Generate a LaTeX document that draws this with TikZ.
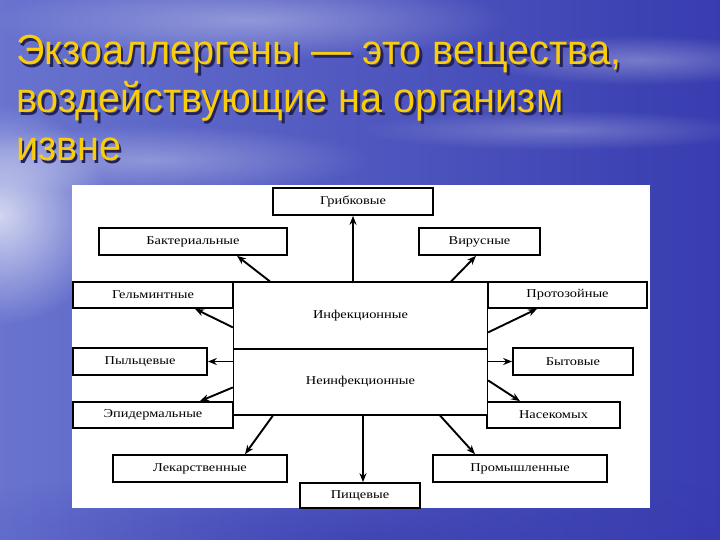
\documentclass[tikz,border=0pt]{standalone}
\usepackage{fontspec}
\setmainfont{Liberation Serif}
\newfontfamily\diagfont[FakeStretch=1.2]{Liberation Serif}
\newfontfamily\titlefont{Liberation Sans}
\usetikzlibrary{calc,arrows.meta,fadings}
\tikzfading[name=softfade, inner color=transparent!0, outer color=transparent!100]
\definecolor{bgbase}{RGB}{70,80,190}
\definecolor{bgdark}{RGB}{50,52,170}
\definecolor{bglight}{RGB}{120,132,215}
\definecolor{titleyellow}{RGB}{250,205,10}
\definecolor{titleshadow}{RGB}{35,35,90}
\newcommand{\shadowed}[1]{\makebox[0pt][l]{\hspace{2.5pt}\raisebox{-2.5pt}{\color{titleshadow}#1}}#1}
\begin{document}
\begin{tikzpicture}[x=1pt,y=-1pt,
  box/.style={draw=black, line width=1.7pt, fill=white, inner sep=0pt,
    font=\diagfont\fontsize{12}{14}\selectfont},
  bigbox/.style={box, line width=1.2pt},
  arr/.style={draw=black, line width=1.9pt, -{Stealth[length=9pt,width=7pt]}},
  ttl/.style={anchor=base west, inner sep=0pt, xscale=0.945, text=titleyellow,
    font=\titlefont\fontsize{42}{46}\selectfont}]
% background
\useasboundingbox (0,0) rectangle (720,540);
\shade[left color=bglight, right color=bgdark] (0,0) rectangle (720,540);
\fill[bgbase, opacity=0.3] (0,0) rectangle (720,540);
\fill[white, opacity=0.7, path fading=softfade] (0,215) ellipse [x radius=110, y radius=110];
\fill[white, opacity=0.35, path fading=softfade] (250,20) ellipse [x radius=260, y radius=40];
\fill[white, opacity=0.3, path fading=softfade] (640,60) ellipse [x radius=160, y radius=25];
\fill[white, opacity=0.25, path fading=softfade] (560,130) ellipse [x radius=200, y radius=20];
\fill[white, opacity=0.3, path fading=softfade] (150,160) ellipse [x radius=220, y radius=35];
\fill[bgdark, opacity=0.5, path fading=softfade] (360,540) ellipse [x radius=460, y radius=80];
% title
\node[ttl] (title1) at (16,65) {\shadowed{Экзоаллергены — это вещества,}};
\node[ttl] (title2) at (16,113) {\shadowed{воздействующие на организм}};
\node[ttl] (title3) at (16,161) {\shadowed{извне}};
% panel
\fill[white] (72,185) rectangle (650,508);
% boxes
\node[box, minimum width=160pt, minimum height=27pt] (gr) at (353,201.5) {Грибковые};
\node[box, minimum width=188pt, minimum height=27pt] (bak) at (193,241.5) {Бактериальные};
\node[box, minimum width=121pt, minimum height=27pt] (vir) at (479.5,241.5) {Вирусные};
\node[box, minimum width=160pt, minimum height=26pt] (gel) at (153,295) {Гельминтные};
\node[box, minimum width=159pt, minimum height=26pt] (pro) at (567.5,295) {Протозойные};
\node[box, minimum width=134pt, minimum height=27pt] (pyl) at (140,361.5) {Пыльцевые};
\node[box, minimum width=160pt, minimum height=26pt] (epi) at (153,415) {Эпидермальные};
\node[box, minimum width=120pt, minimum height=27pt] (byt) at (573,361.5) {Бытовые};
\node[box, minimum width=133pt, minimum height=26pt] (nas) at (553.5,415) {Насекомых};
\node[box, minimum width=174pt, minimum height=27pt] (lek) at (200,468.5) {Лекарственные};
\node[box, minimum width=174pt, minimum height=27pt] (prom) at (520,468.5) {Промышленные};
\node[box, minimum width=120pt, minimum height=25pt] (pish) at (360,495.5) {Пищевые};
\node[bigbox, minimum width=254pt, minimum height=67pt] (inf) at (360.5,315.5) {Инфекционные};
\node[bigbox, minimum width=254pt, minimum height=66pt] (ninf) at (360.5,382) {Неинфекционные};
% arrows
\draw[arr] (gr.south |- inf.north) -- (gr.south);
\draw[arr] ($(inf.north west)+(37,0)$) -- ($(bak.south)+(44,0)$);
\draw[arr] ($(inf.north east)+(-37,0)$) -- ($(vir.south)+(-3.5,0)$);
\draw[arr] ($(inf.north west)+(0,46)$) -- ($(gel.south)+(42,0)$);
\draw[arr] ($(inf.north east)+(0,51)$) -- ($(pro.south)+(-30.5,0)$);
\draw[arr] (inf.west |- pyl.east) -- (pyl.east);
\draw[arr] ($(ninf.north west)+(0,39)$) -- ($(epi.north)+(47,0)$);
\draw[arr] ($(ninf.south west)+(40,0)$) -- ($(lek.north)+(45,0)$);
\draw[arr] ($(pish.north |- ninf.south)+(3,0)$) -- ($(pish.north)+(3,0)$);
\draw[arr] ($(ninf.south east)+(-48,0)$) -- ($(prom.north)+(-45,0)$);
\draw[arr] ($(ninf.north east)+(0,32)$) -- ($(nas.north)+(-33.5,0)$);
\draw[arr] (ninf.east |- byt.west) -- (byt.west);
\end{tikzpicture}
\end{document}
